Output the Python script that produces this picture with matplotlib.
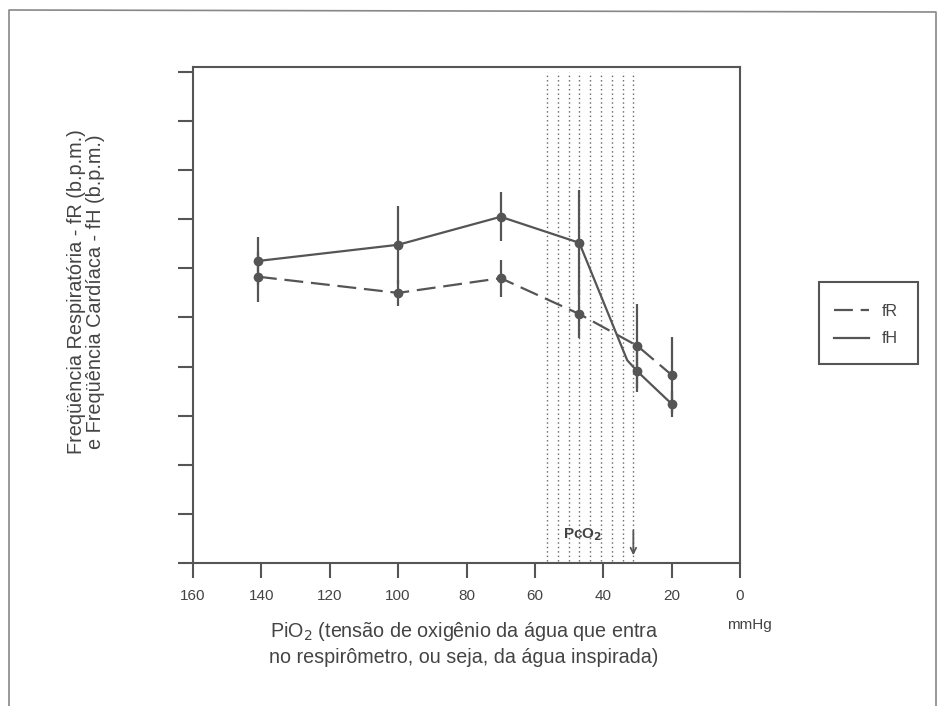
"""Respiratory (fR) and heart (fH) rate against inspired water PO2."""

import matplotlib
matplotlib.use("Agg")
import matplotlib.pyplot as plt
from matplotlib.lines import Line2D
from matplotlib.patches import Rectangle

# --- data (y in arbitrary tick units, no labels) ---
pio2 = [141, 100, 70, 47, 30, 20]
fr_mean = [5.83, 5.50, 5.80, 5.07, 4.42, 3.83]
fr_err = [0.51, 0.27, 0.38, 0.49, 0.86, 0.77]
fh_mean = [6.15, 6.48, 7.05, 6.52, 3.90, 3.24]
fh_err = [0.49, 0.79, 0.50, 1.07, 0.41, 0.27]

# the fH curve bends once between 47 and 30 mmHg
fh_line_x = [141, 100, 70, 47, 33, 30, 20]
fh_line_y = [6.15, 6.48, 7.05, 6.52, 4.13, 3.90, 3.24]

pco2_lines = [56.5, 53.3, 50.0, 47.0, 43.9, 40.7, 37.5, 34.3, 31.2]
pco2_arrow_x = 31.2

x_ticks = [160, 140, 120, 100, 80, 60, 40, 20, 0]
y_ticks = list(range(0, 11))

GREY = "#555555"
TEXT = "#444444"
plt.rcParams["font.family"] = ["Liberation Sans", "DejaVu Sans"]

fig = plt.figure(figsize=(9.42, 7.06), dpi=100)
ax = fig.add_axes([193 / 942, 1 - 563 / 706, 547 / 942, 496 / 706])

for x in pco2_lines:
    ax.plot([x, x], [0.05, 10.0], color="#666666", lw=1.0,
            linestyle=(0, (1, 2.2)), zorder=1)

ax.errorbar(pio2, fr_mean, yerr=fr_err, fmt="none", ecolor=GREY,
            elinewidth=1.6, capsize=0, zorder=2)
ax.errorbar(pio2, fh_mean, yerr=fh_err, fmt="none", ecolor=GREY,
            elinewidth=1.6, capsize=0, zorder=2)

ax.plot(pio2, fr_mean, color=GREY, lw=1.6, linestyle=(0, (8.5, 3.5)),
        label="fR", zorder=3)
ax.plot(fh_line_x, fh_line_y, color=GREY, lw=1.6, label="fH", zorder=3)
ax.plot(pio2, fr_mean, "o", color=GREY, ms=6, zorder=4)
ax.plot(pio2, fh_mean, "o", color=GREY, ms=6, zorder=4)

ax.annotate("", xy=(pco2_arrow_x, 0.1), xytext=(pco2_arrow_x, 0.72),
            arrowprops=dict(arrowstyle="->", color=GREY, lw=1.3))
ax.text(46, 0.57, "PcO$_\\mathbf{2}$", ha="center", va="center",
        fontsize=11, fontweight="bold", color=TEXT)

ax.set_xlim(160, 0)
ax.set_ylim(0, 10.1)
ax.set_xticks(x_ticks)
ax.set_xticklabels([str(t) for t in x_ticks])
ax.set_yticks(y_ticks)
ax.set_yticklabels([])
ax.tick_params(axis="x", direction="out", length=11, width=1.5,
               colors=GREY, labelcolor=TEXT, labelsize=11, pad=8)
ax.tick_params(axis="y", direction="out", length=11, width=1.5, colors=GREY)
for side in ax.spines.values():
    side.set_color(GREY)
    side.set_linewidth(1.5)

ax.set_xlabel("PiO$_2$ (tensão de oxigênio da água que entra\n"
              "no respirômetro, ou seja, da água inspirada)",
              fontsize=14.2, color=TEXT, linespacing=1.3, va="top")
ax.xaxis.set_label_coords(0.495, -0.115)
ax.set_ylabel("Freqüência Respiratória - fR (b.p.m.)\n"
              "e Freqüência Cardíaca - fH (b.p.m.)",
              fontsize=14.3, color=TEXT, linespacing=1.0, va="center")
ax.yaxis.set_label_coords(-0.196, 0.548)
fig.text(749 / 942, 1 - 625 / 706, "mmHg", ha="center", va="center",
         fontsize=11, color=TEXT)

# legend box is drawn by hand so its padding can differ per side
leg = fig.legend(loc="center", bbox_to_anchor=(866 / 942, 1 - 325 / 706),
                 frameon=False, fontsize=11.5, handlelength=2.2,
                 borderpad=0, labelspacing=0.8, handletextpad=0.8)
for t in leg.get_texts():
    t.set_color(TEXT)
fig.add_artist(Rectangle((819 / 942, 1 - 364 / 706), 99 / 942, 82 / 706,
                         transform=fig.transFigure, fill=False,
                         ec=GREY, lw=1.5))

# outer page frame (open at the bottom edge)
frame = Line2D([9 / 942, 9 / 942, 936 / 942, 936 / 942],
               [0.0, 1 - 10 / 706, 1 - 12 / 706, 0.0],
               transform=fig.transFigure, color="#888888", lw=1.2)
fig.add_artist(frame)

fig.savefig("out.png", dpi=100)
